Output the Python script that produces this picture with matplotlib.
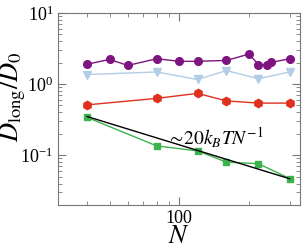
import numpy as np
import matplotlib
matplotlib.use("Agg")
import matplotlib.pyplot as plt

plt.rcParams['font.family'] = 'Liberation Serif'
plt.rcParams['mathtext.fontset'] = 'stix'

# purple circles
N_purple = [40, 50, 60, 80, 100, 120, 160, 200, 220, 240, 250, 300]
D_purple = [1.90, 2.22, 1.83, 2.27, 2.09, 2.09, 2.15, 2.64, 1.88, 1.88, 2.02, 2.27]

# light blue triangles
N_blue = [40, 80, 120, 160, 220, 300]
D_blue = [1.36, 1.48, 1.16, 1.55, 1.19, 1.48]

# red pentagons
N_red = [40, 80, 120, 160, 220, 300]
D_red = [0.51, 0.63, 0.74, 0.58, 0.54, 0.54]

# green squares
N_green = [40, 80, 120, 160, 220, 300]
D_green = [0.34, 0.135, 0.115, 0.080, 0.076, 0.047]

# scaling guide line
N_fit = [40, 300]
coef = 14.0

fig = plt.figure(figsize=(3.06, 2.49), dpi=100)
ax = fig.add_axes([0.19, 0.177, 0.79, 0.771])

ax.plot(N_purple, D_purple, '-o', color='#7d1480', ms=5.5, lw=1.0)
ax.plot(N_blue, D_blue, '-v', color='#b3cde6', ms=6, lw=1.0)
ax.plot(N_red, D_red, '-h', color='#e0301e', ms=6, lw=1.0)
ax.plot(N_green, D_green, '-s', color='#3db34d', ms=5, lw=1.0)
ax.plot(N_fit, [coef / n for n in N_fit], '-', color='black', lw=1.0)

ax.text(89, 0.175, r'$\sim\!20k_BTN^{-1}$', fontsize=14, va='center')

ax.set_xscale('log')
ax.set_yscale('log')
ax.set_xlim(30, 332)
ax.set_ylim(0.02, 10)
ax.set_xticks([100])
ax.set_xticklabels(['100'])

for s in ax.spines.values():
    s.set_color('#777777')
ax.tick_params(which='both', direction='in', top=True, right=True, color='#777777',
               labelsize=13)
ax.tick_params(which='major', length=6)
ax.tick_params(which='minor', length=3)

ax.set_xlabel(r'$N$', fontsize=19)
ax.set_ylabel(r'$D_{\rm long}/D_{\mathit{0}}$', fontsize=19)
ax.yaxis.set_label_coords(-0.125, 0.565)
ax.xaxis.set_label_coords(0.5, -0.11)

fig.savefig('out.png', dpi=100)
